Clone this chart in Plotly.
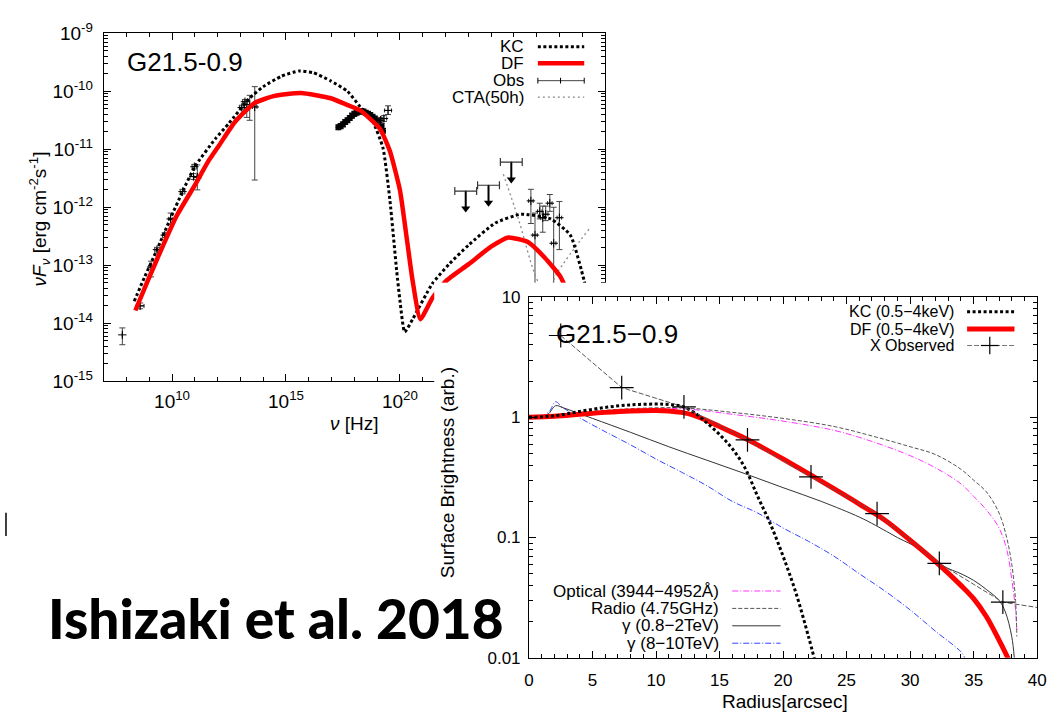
import numpy as np
import plotly.graph_objects as go

W, H = 1057, 718

# ---------------- SED panel: log10(nu [Hz]) and log10(nuF_nu [erg cm^-2 s^-1]) ----------------
kc_lognu = [8.34, 8.8, 9.34, 9.9, 10.46, 11.0, 11.9, 12.5, 13.4, 14.0, 14.8, 15.58, 16.2, 16.96,
            17.7, 18.26, 18.82, 19.26, 19.56, 19.86, 20.0, 20.21, 20.56, 21.42, 22.16, 23.02,
            24.19, 25.32, 26.62, 27.48, 28.09, 28.5]
kc_logf = [-13.62, -13.2, -12.73, -12.22, -11.73, -11.3, -10.82, -10.55, -10.12, -9.92, -9.74, -9.65,
           -9.68, -9.82, -10.0, -10.27, -10.53, -10.98, -11.87, -13.1, -13.6, -14.15, -13.93, -13.32,
           -12.98, -12.65, -12.27, -12.12, -12.2, -12.48, -13.27, -14.0]

df_lognu = [8.39, 8.9, 9.47, 10.2, 11.03, 11.6, 12.07, 12.76, 13.63, 14.5, 15.66, 16.96, 17.6,
            18.26, 19.13, 19.56, 20.0, 20.3, 20.56, 20.9, 21.42, 22.03, 23.02, 24.0, 24.76, 25.62,
            26.36, 27.05, 27.6]
df_logf = [-13.78, -13.3, -12.78, -12.15, -11.6, -11.2, -10.93, -10.53, -10.2, -10.08, -10.03, -10.12,
           -10.22, -10.33, -10.65, -11.03, -11.7, -12.53, -13.27, -13.93, -13.57, -13.27, -12.98,
           -12.68, -12.52, -12.6, -12.87, -13.2, -13.7]

cta_lognu = [24.54, 25.2, 25.97, 26.4, 26.92, 28.31]
cta_logf = [-11.43, -12.2, -13.2, -13.5, -13.12, -12.37]

# radio / IR / optical, hard X-ray and H.E.S.S. measurements
obs_lognu = [7.82, 8.6, 9.08, 9.34, 9.68, 9.94, 10.46, 10.94, 10.98, 11.11,
             13.06, 13.2, 13.28, 13.41, 13.63,
             19.15, 19.3, 19.48,
             25.75, 25.93, 26.14, 26.27, 26.4, 26.58, 26.75, 27.0]
obs_logf = [-14.2, -13.7, -13.03, -12.73, -12.48, -12.2, -11.73, -11.47, -11.3, -11.48,
            -10.28, -10.18, -10.28, -10.23, -10.27,
            -10.5, -10.47, -10.33,
            -11.89, -12.48, -12.07, -12.18, -12.12, -11.93, -12.62, -12.18]
obs_logf_lo = [-14.37, -13.75, -13.2, -12.77, -12.52, -12.3, -11.77, -11.52, -11.34, -11.7,
               -10.32, -10.22, -10.45, -10.5, -11.53,
               -10.55, -10.52, -10.4,
               -12.28, -14.5, -12.2, -12.43, -12.23, -12.07, -14.5, -12.73]
obs_logf_hi = [-14.08, -13.65, -12.93, -12.69, -12.44, -12.1, -11.69, -11.42, -11.26, -11.27,
               -10.24, -10.14, -10.15, -10.07, -9.92,
               -10.45, -10.42, -10.25,
               -11.69, -12.1, -11.93, -11.98, -11.98, -11.78, -12.0, -11.9]
obs_dlognu = [0.0, 0.17, 0.1, 0.1, 0.1, 0.1, 0.1, 0.15, 0.1, 0.15,
              0.1, 0.1, 0.1, 0.28, 0.1,
              0.1, 0.12, 0.15,
              0.1, 0.1, 0.1, 0.1, 0.1, 0.1, 0.1, 0.1]

# soft X-ray spectrum
xray_lognu = [17.3, 17.4, 17.5, 17.6, 17.7, 17.8, 17.9, 18.0, 18.1, 18.2, 18.3, 18.4, 18.5,
              18.6, 18.7, 18.8, 18.9, 19.0, 19.1, 19.2, 19.26]
xray_logf = [-10.62, -10.6, -10.57, -10.53, -10.5, -10.46, -10.42, -10.39, -10.37, -10.35, -10.34,
             -10.35, -10.37, -10.39, -10.41, -10.44, -10.47, -10.5, -10.54, -10.6, -10.68]
xray_dlogf = [0.04] * 21

# GeV upper limits
ul_lognu = [22.89, 23.89, 24.89]
ul_logf = [-11.72, -11.62, -11.22]
ul_dlognu = [0.48, 0.48, 0.48]

sed_xticks = [10, 15, 20]
sed_yticks = [-15, -14, -13, -12, -11, -10, -9]

# ---------------- radial profile panel ----------------
kc_r = [0, 2, 4, 6, 8, 10, 11, 12, 13, 14, 15, 16, 17, 18, 19, 20, 21, 22, 22.5]
kc_sb = [1.0, 1.03, 1.12, 1.21, 1.27, 1.29, 1.28, 1.24, 1.1, 0.9, 0.72, 0.55, 0.38, 0.22, 0.13,
         0.07, 0.035, 0.015, 0.0095]

df_r = [0, 2, 4, 6, 8, 10, 11, 12, 13, 14, 15, 16, 17, 18, 20, 22, 24, 26, 28, 30, 32, 34, 35, 36,
        37, 37.5, 38]
df_sb = [1.0, 1.02, 1.06, 1.1, 1.13, 1.14, 1.13, 1.1, 1.04, 0.94, 0.84, 0.75, 0.67, 0.59, 0.45,
         0.34, 0.255, 0.19, 0.14, 0.095, 0.063, 0.04, 0.031, 0.022, 0.014, 0.011, 0.0085]

xobs_r = [2.5, 7.3, 12.2, 17.2, 22.2, 27.4, 32.3, 37.3, 42.3]
xobs_sb = [4.8, 1.77, 1.22, 0.65, 0.32, 0.158, 0.061, 0.029, 0.024]

opt_r = [0, 4, 8, 12, 16, 20, 24, 27, 30, 32, 34, 35, 36, 37, 37.6, 38, 38.3, 38.4]
opt_sb = [1.0, 1.08, 1.16, 1.18, 1.06, 0.93, 0.78, 0.63, 0.48, 0.38, 0.28, 0.22, 0.17, 0.12, 0.08,
          0.045, 0.025, 0.017]

rad_r = [0, 4, 8, 12, 16, 20, 24, 27, 30, 32, 34, 35, 36, 37, 37.6, 38, 38.3, 38.4]
rad_sb = [1.0, 1.1, 1.18, 1.2, 1.1, 0.98, 0.84, 0.7, 0.57, 0.49, 0.37, 0.3, 0.24, 0.16, 0.1,
          0.06, 0.03, 0.015]

g1_r = [0, 1, 1.5, 2.1, 2.7, 5, 8, 11, 14, 17, 20, 23, 26, 27.3, 29, 30.8, 32.6, 34, 35, 36, 37,
        37.5, 38, 38.2]
g1_sb = [1.0, 1.02, 1.06, 1.25, 1.2, 0.98, 0.75, 0.57, 0.44, 0.34, 0.26, 0.2, 0.148, 0.126, 0.1,
         0.08, 0.058, 0.05, 0.044, 0.037, 0.03, 0.024, 0.015, 0.01]

g2_r = [0, 1, 1.6, 2.1, 2.6, 4, 6, 8, 10, 12, 14, 16, 18, 20, 22, 24, 26, 28, 30, 32, 34, 34.3]
g2_sb = [1.0, 1.02, 1.12, 1.35, 1.22, 0.99, 0.76, 0.59, 0.45, 0.35, 0.27, 0.2, 0.16, 0.12, 0.093,
         0.07, 0.05, 0.036, 0.025, 0.0166, 0.0112, 0.01]

prof_yticks = [0.01, 0.1, 1, 10]
prof_ylabels = ["0.01", "0.1", "1", "10"]

FONT = "Liberation Sans, Arial, sans-serif"


def px(x):
    return x / W


def py(y):
    return 1 - y / H


pow10 = lambda a: np.power(10.0, np.asarray(a, dtype=float))

fig = go.Figure()

# ---------------- SED traces ----------------
nu_x, f_x = pow10(xray_lognu), pow10(xray_logf)
fig.add_trace(go.Scatter(
    x=nu_x, y=f_x, mode="markers", xaxis="x", yaxis="y",
    marker=dict(symbol="circle", size=6, color="black"),
    error_y=dict(type="data", array=f_x * (pow10(xray_dlogf) - 1),
                 arrayminus=f_x * (1 - pow10(-np.asarray(xray_dlogf))), color="#111",
                 thickness=1.5, width=3),
    showlegend=False))

nu_o, f_o = pow10(obs_lognu), pow10(obs_logf)
fig.add_trace(go.Scatter(
    x=nu_o, y=f_o, mode="markers", xaxis="x", yaxis="y",
    marker=dict(symbol="cross-thin", size=6, line=dict(width=1, color="black")),
    error_y=dict(type="data", symmetric=False, array=pow10(obs_logf_hi) - f_o,
                 arrayminus=f_o - pow10(obs_logf_lo), color="#444", thickness=1, width=3),
    error_x=dict(type="data", symmetric=False, array=nu_o * (pow10(obs_dlognu) - 1),
                 arrayminus=nu_o * (1 - pow10(-np.asarray(obs_dlognu))), color="#222",
                 thickness=1, width=2),
    showlegend=False))

nu_u, f_u = pow10(ul_lognu), pow10(ul_logf)
arrow_drop = 0.3  # length of the upper-limit arrow in dex
fig.add_trace(go.Scatter(
    x=nu_u, y=f_u, mode="markers", xaxis="x", yaxis="y",
    marker=dict(size=1, color="black"),
    error_x=dict(type="data", symmetric=False, array=nu_u * (pow10(ul_dlognu) - 1),
                 arrayminus=nu_u * (1 - pow10(-np.asarray(ul_dlognu))), color="#333",
                 thickness=1.2, width=4),
    error_y=dict(type="data", symmetric=False, array=np.zeros(len(f_u)),
                 arrayminus=f_u * (1 - 10 ** -arrow_drop), color="black", thickness=2, width=0),
    showlegend=False))
fig.add_trace(go.Scatter(
    x=nu_u, y=f_u * 10 ** -arrow_drop, mode="markers", xaxis="x", yaxis="y",
    marker=dict(symbol="triangle-down", size=8, color="black"),
    showlegend=False))

fig.add_trace(go.Scatter(
    x=pow10(cta_lognu), y=pow10(cta_logf), mode="lines", xaxis="x", yaxis="y",
    line=dict(color="#8a8a8a", width=1.3, dash="2px,3px"), line_shape="spline",
    showlegend=False))
fig.add_trace(go.Scatter(
    x=pow10(kc_lognu), y=pow10(kc_logf), mode="lines", xaxis="x", yaxis="y",
    line=dict(color="black", width=3, dash="3px,2.5px", shape="spline", smoothing=0.5),
    showlegend=False))
fig.add_trace(go.Scatter(
    x=pow10(df_lognu), y=pow10(df_logf), mode="lines", xaxis="x", yaxis="y",
    line=dict(color="#ff0000", width=4.5, shape="spline", smoothing=0.5),
    showlegend=False))

# blank panel that masks the lower right of the SED frame
fig.add_trace(go.Scatter(x=[0.5], y=[0.5], mode="lines", xaxis="x2", yaxis="y2",
                         hoverinfo="skip", showlegend=False))

# ---------------- radial profile traces ----------------
fig.add_trace(go.Scatter(x=opt_r, y=opt_sb, mode="lines", xaxis="x3", yaxis="y3",
                         line=dict(color="#ff33ff", width=1, dash="6px,2px,1px,2px", shape="spline"),
                         showlegend=False))
fig.add_trace(go.Scatter(x=rad_r, y=rad_sb, mode="lines", xaxis="x3", yaxis="y3",
                         line=dict(color="#555", width=1, dash="4px,2px", shape="spline"),
                         showlegend=False))
fig.add_trace(go.Scatter(x=g2_r, y=g2_sb, mode="lines", xaxis="x3", yaxis="y3",
                         line=dict(color="#3344ff", width=1, dash="6px,2px,1px,2px", shape="spline"),
                         showlegend=False))
fig.add_trace(go.Scatter(x=g1_r, y=g1_sb, mode="lines", xaxis="x3", yaxis="y3",
                         line=dict(color="#333", width=1, shape="spline"),
                         showlegend=False))
fig.add_trace(go.Scatter(x=df_r, y=df_sb, mode="lines", xaxis="x3", yaxis="y3",
                         line=dict(color="#ff0000", width=5, shape="spline"),
                         showlegend=False))
fig.add_trace(go.Scatter(x=kc_r, y=kc_sb, mode="lines", xaxis="x3", yaxis="y3",
                         line=dict(color="black", width=3, dash="3px,2.5px", shape="spline"),
                         showlegend=False))
fig.add_trace(go.Scatter(x=xobs_r, y=xobs_sb, mode="lines+markers", xaxis="x3", yaxis="y3",
                         line=dict(color="#555", width=1, dash="5px,2px"),
                         marker=dict(symbol="cross-thin", size=17,
                                     line=dict(width=1.2, color="black")),
                         showlegend=False))

# ---------------- axes ----------------
tick_font = dict(family=FONT, size=19, color="black")
sed_minor_y = [m * 10.0 ** e for e in range(-15, -9) for m in range(2, 10)]
sed_minor_x = [10.0 ** e for e in range(8, 29) if e not in sed_xticks]

common = dict(showline=True, linecolor="black", linewidth=1, mirror="ticks", ticks="inside",
              tickcolor="black", showgrid=False, zeroline=False)

fig.update_layout(
    xaxis=dict(type="log", range=[7, 29], domain=[px(100), px(608)], anchor="y",
               tickvals=[10.0 ** e for e in sed_xticks],
               ticktext=["10<sup>%d</sup>" % e for e in sed_xticks],
               ticklen=7, tickfont=tick_font, ticklabelstandoff=3,
               minor=dict(tickvals=sed_minor_x, ticklen=4, ticks="inside", tickcolor="black"),
               **common),
    yaxis=dict(type="log", range=[-15, -9], domain=[py(381), py(21)], anchor="x",
               tickvals=[10.0 ** e for e in sed_yticks],
               ticktext=["10<sup>%d</sup>" % e for e in sed_yticks],
               ticklen=7, tickfont=tick_font, ticklabelstandoff=6,
               minor=dict(tickvals=sed_minor_y, ticklen=4, ticks="inside", tickcolor="black"),
               **common),
    xaxis2=dict(domain=[px(435), 1.0], anchor="y2", range=[0, 1], visible=False),
    yaxis2=dict(domain=[0.0, py(279)], anchor="x2", range=[0, 1], visible=False),
    xaxis3=dict(range=[0, 40], domain=[px(531), px(1046)], anchor="y3",
                dtick=5, ticklen=7, tickfont=dict(family=FONT, size=17, color="black"),
                ticklabelstandoff=7,
                minor=dict(dtick=1, ticklen=4, ticks="inside", tickcolor="black"),
                **common),
    yaxis3=dict(type="log", range=[-2, 1], domain=[py(667), py(294)], anchor="x3",
                tickvals=prof_yticks, ticktext=prof_ylabels, ticklen=7,
                tickfont=dict(family=FONT, size=17, color="black"), ticklabelstandoff=4,
                minor=dict(tickvals=[m * 10.0 ** e for e in range(-2, 1) for m in range(2, 10)],
                           ticklen=4, ticks="inside", tickcolor="black"),
                **common),
    width=W, height=H, margin=dict(l=0, r=0, t=0, b=0),
    paper_bgcolor="white", plot_bgcolor="white", showlegend=False,
    font=dict(family=FONT, color="black"),
)

# ---------------- text ----------------
ann = []


def text(x, y, s, size=17, xanchor="center", yanchor="middle", angle=0, **kw):
    ann.append(dict(x=px(x), y=py(y), xref="paper", yref="paper", text=s, showarrow=False,
                    xanchor=xanchor, yanchor=yanchor, textangle=angle,
                    font=dict(family=kw.pop("family", FONT), size=size, color="black",
                              **kw)))


text(182, 51, "G21.5-0.9", size=26)
text(354, 425, "<i>ν</i> [Hz]", size=19)
text(35, 213, "<i>νF<sub>ν</sub></i> [erg cm<sup>-2</sup>s<sup>-1</sup>]", size=19, angle=-90)

sed_legend = ["KC", "DF", "Obs", "CTA(50h)"]
sed_rows = [35, 52, 70, 87]
for lab, yy in zip(sed_legend, sed_rows):
    text(528, yy, lab, size=17, xanchor="right")

text(620, 332, "G21.5−0.9", size=26)
text(448, 476, "Surface Brightness (arb.)", size=19, angle=-90)
text(790, 712, "Radius[arcsec]", size=19)

prof_legend_top = ["KC (0.5−4keV)", "DF (0.5−4keV)", "X Observed"]
prof_rows_top = [309, 327, 344]
for lab, yy in zip(prof_legend_top, prof_rows_top):
    text(964, yy, lab, size=16, xanchor="right")

prof_legend_bot = ["Optical (3944−4952Å)", "Radio (4.75GHz)", "γ (0.8−2TeV)", "γ (8−10TeV)"]
prof_rows_bot = [598, 616, 634, 652]
for lab, yy in zip(prof_legend_bot, prof_rows_bot):
    text(726, yy, lab, size=17, xanchor="right")

text(275, 626, "Ishizaki et al. 2018", size=55, family="Lato", weight=900)

fig.update_layout(annotations=ann)

# ---------------- legend keys ----------------
shapes = []


def key(x0, x1, y, color, width=1, dash="solid"):
    shapes.append(dict(type="line", xref="paper", yref="paper", x0=px(x0), x1=px(x1),
                       y0=py(y), y1=py(y), line=dict(color=color, width=width, dash=dash)))


def vtick(x, y, half, color="black", width=1):
    shapes.append(dict(type="line", xref="paper", yref="paper", x0=px(x), x1=px(x),
                       y0=py(y - half), y1=py(y + half), line=dict(color=color, width=width)))


key(540, 587, sed_rows[0], "black", 3, "3px,2.5px")
key(540, 587, sed_rows[1], "#ff0000", 4.5)
key(540, 587, sed_rows[2], "#444", 1)
vtick(540, sed_rows[2], 3)
vtick(587, sed_rows[2], 3)
vtick(563, sed_rows[2], 3)
key(540, 587, sed_rows[3], "#8a8a8a", 1.3, "2px,3px")

key(975, 1023, prof_rows_top[0], "black", 3, "3px,2.5px")
key(975, 1023, prof_rows_top[1], "#ff0000", 5)
key(975, 1023, prof_rows_top[2], "#777", 1, "5px,2px")
key(989, 1007, prof_rows_top[2], "black", 1.2)
vtick(998, prof_rows_top[2], 9, width=1.2)

key(737, 786, prof_rows_bot[0], "#ff33ff", 1, "6px,2px,1px,2px")
key(737, 786, prof_rows_bot[1], "#555", 1, "4px,2px")
key(737, 786, prof_rows_bot[2], "#333", 1)
key(737, 786, prof_rows_bot[3], "#3344ff", 1, "6px,2px,1px,2px")

vtick(1, 529, 12, width=1.5)

fig.update_layout(shapes=shapes)

fig.write_html("out.html")
